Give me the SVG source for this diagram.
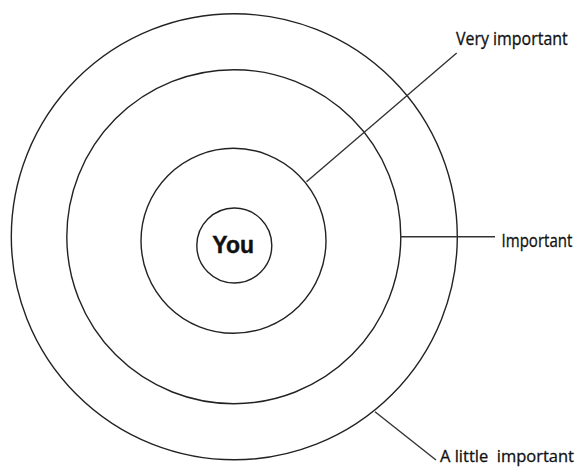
<svg xmlns="http://www.w3.org/2000/svg" width="581" height="467" viewBox="0 0 581 467">
<style>
.ring{fill:none;stroke:#222;stroke-width:1.4}
.conn line{stroke:#333;stroke-width:1.4}
.lbl{font-family:"Open Sans","Liberation Sans",sans-serif;font-size:17.5px;fill:#111;stroke:#111;stroke-width:0.3;white-space:pre}
.you{font-family:"Liberation Sans",Arial,sans-serif;font-size:23px;font-weight:bold;fill:#111;stroke:#111;stroke-width:0.4}
</style>
<rect width="581" height="467" fill="#fff"/>
<g id="ring-outer"><circle class="ring" cx="234.3" cy="236.8" r="223"/></g>
<g id="ring-middle"><circle class="ring" cx="233.8" cy="236.7" r="167"/></g>
<g id="ring-inner"><circle class="ring" cx="233.5" cy="240.8" r="92.5"/></g>
<g id="you"><circle class="ring" cx="234.3" cy="245.5" r="37.5"/><text class="you" x="233.2" y="253.3" text-anchor="middle" textLength="41.7" lengthAdjust="spacingAndGlyphs">You</text></g>
<g id="connectors" class="conn">
<line x1="306.5" y1="181.7" x2="456.7" y2="53"/>
<line x1="400.7" y1="236.7" x2="495" y2="236.7"/>
<line x1="375" y1="411.7" x2="436" y2="460"/>
</g>
<g id="label-very"><text class="lbl" x="456" y="45" textLength="111.7" lengthAdjust="spacingAndGlyphs">Very important</text></g>
<g id="label-important"><text class="lbl" transform="translate(501.5,246.5) scale(0.86,1)" x="0" y="0">Important</text></g>
<g id="label-little"><text class="lbl" x="440" y="461.5" xml:space="preserve" style="font-size:16.5px" textLength="134" lengthAdjust="spacingAndGlyphs">A little  important</text></g>
</svg>
